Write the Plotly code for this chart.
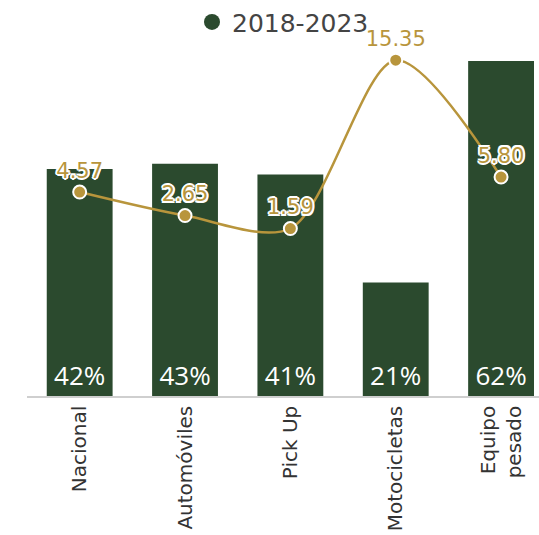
import plotly.graph_objects as go

categories = ["Nacional", "Automóviles", "Pick Up", "Motocicletas", "Equipo<br>pesado"]
share_pct = [42, 43, 41, 21, 62]
growth = [4.57, 2.65, 1.59, 15.35, 5.80]
legend_name = "2018-2023"

GREEN = "#2B4A2E"
GOLD = "#B8953C"
FONT = "DejaVu Sans"

fig = go.Figure()
fig.add_trace(go.Bar(
    x=categories, y=share_pct, width=0.625,
    marker=dict(color=GREEN, line=dict(width=0)),
    text=[f"{v}%" for v in share_pct], textposition="inside",
    insidetextanchor="start", textangle=0,
    textfont=dict(color="white", size=26, family="Open Sans", weight=500),
    showlegend=False, hoverinfo="skip",
))
fig.add_trace(go.Scatter(
    x=categories, y=growth, yaxis="y2", mode="lines+markers+text",
    line=dict(color=GOLD, width=2.5, shape="spline", smoothing=0.85),
    marker=dict(color=GOLD, size=13, line=dict(color="white", width=2)),
    texttemplate="%{y:.2f}", textposition="top center",
    textfont=dict(color=GOLD, size=21, family=FONT, weight="normal",
                  shadow="-1.5px -1.5px 0 #fff, 1.5px -1.5px 0 #fff, -1.5px 1.5px 0 #fff, 1.5px 1.5px 0 #fff, 0 2px 0 #fff, 0 -2px 0 #fff, 2px 0 0 #fff, -2px 0 0 #fff"),
    showlegend=False, cliponaxis=False, hoverinfo="skip",
))
fig.add_trace(go.Scatter(
    x=[None], y=[None], mode="markers", name=legend_name,
    marker=dict(color=GREEN, size=20, symbol="circle"),
))

fig.update_layout(
    width=539, height=535,
    margin=dict(l=27, r=0, t=40, b=139, autoexpand=False),
    plot_bgcolor="white", paper_bgcolor="white",
    font=dict(family=FONT, color="#3a3a3a"),
    showlegend=True,
    legend=dict(orientation="h", x=0.5, xanchor="center", y=1.05, yanchor="middle",
                bgcolor="rgba(0,0,0,0)",
                font=dict(size=25, color="#444444", family=FONT)),
    xaxis=dict(range=[-0.5, 4.36], tickangle=-90, showgrid=False, ticks="",
               showline=True, linecolor="#cfcfcf", linewidth=1.5, automargin=False,
               tickfont=dict(size=20, color="#333333", family=FONT)),
    yaxis=dict(range=[0, 65.9], visible=False, showgrid=False, zeroline=False),
    yaxis2=dict(range=[-12.1, 17.0], overlaying="y", visible=False, showgrid=False, zeroline=False),
)

fig.write_html("out.html", config={"displayModeBar": False},
               post_script="document.body.style.margin='0';document.body.style.overflow='hidden';")
